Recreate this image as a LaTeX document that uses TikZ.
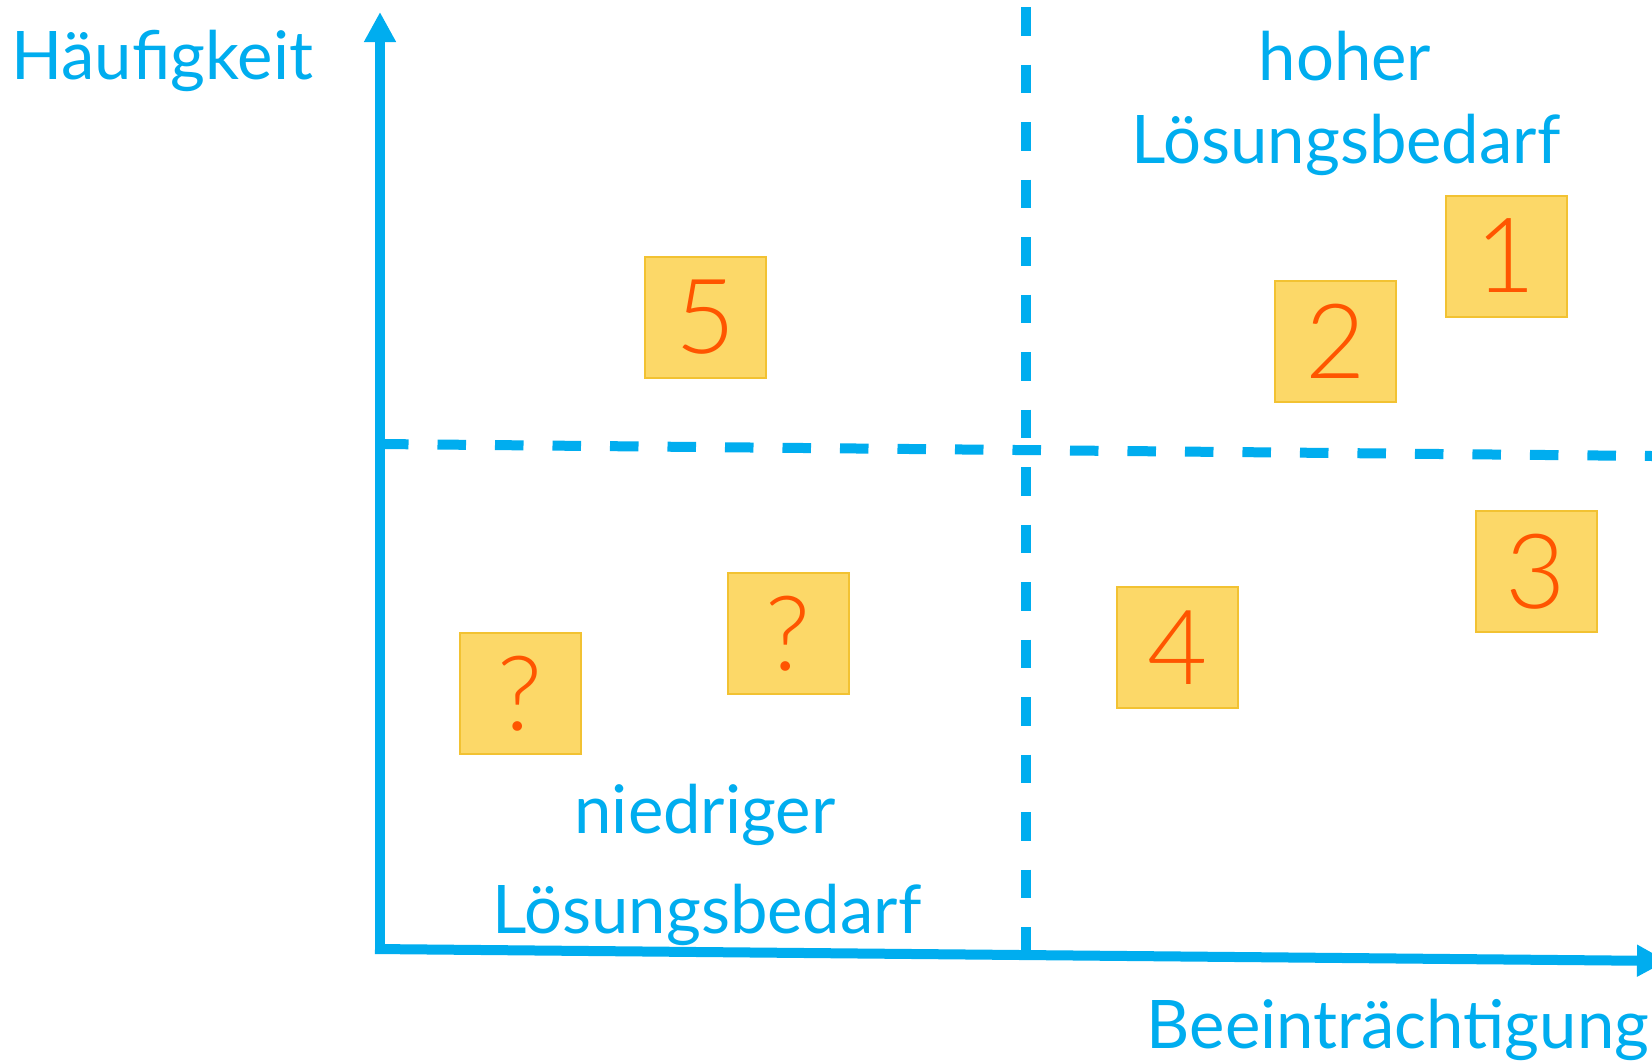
\documentclass[tikz,border=0pt]{standalone}
\usepackage{fontspec}
\setmainfont{Lato}
\IfFontExistsTF{Lato Light}{\newfontfamily\cardfont{Lato Light}}{\newfontfamily\cardfont{Lato}}
\usetikzlibrary{arrows.meta}
\definecolor{cy}{HTML}{00ADEF}
\definecolor{boxfill}{HTML}{FCD868}
\definecolor{boxline}{HTML}{F2C232}
\definecolor{digit}{HTML}{FF5500}
\begin{document}
\begin{tikzpicture}[x=0.5pt,y=-0.5pt,
  axis/.style={draw=cy, line width=5pt, -{Triangle[width=15pt,length=15pt]}},
  grid/.style={draw=cy, line width=5pt, dash pattern=on 14.25pt off 14.5pt},
  lbl/.style={text=cy, font=\fontsize{33.5pt}{40pt}\selectfont, inner sep=0pt, anchor=base},
  card/.style={draw=boxline, fill=boxfill, line width=1pt, minimum size=60.5pt, inner sep=0pt, text=digit, font=\cardfont\fontsize{52pt}{60pt}\selectfont},
]
\useasboundingbox[fill=white] (0,0) rectangle (1652,1060);

% grid lines
\coordinate (hl) at (380,444);
\coordinate (hr) at (1652,456);
\coordinate (vt) at (1026,7);
\coordinate (vb) at (1026,950);
\draw[grid] (hl) -- (hr);
\draw[grid] (vt) -- (vb);

% axes
\coordinate (O) at (380,951);
\coordinate (Ox) at (375,949);
\coordinate (ytip) at (380,12);
\coordinate (xtip) at (1667,961);
\draw[axis] (O) -- (ytip);
\draw[axis] (Ox) -- (xtip);

% labels
\node[lbl, anchor=base west] (hf) at (11,79) {Häufigkeit};
\node[lbl] (hoher) at (1345,80) {hoher};
\node[lbl] (lbh) at (1346,163) {Lösungsbedarf};
\node[lbl] (nied) at (705,833) {niedriger};
\node[lbl] (lbn) at (707,933) {Lösungsbedarf};
\node[lbl] (bee) at (1398,1048) {Beeinträchtigung};

% cards
\node[card] (c1) at (1506,256) {1};
\node[card] (c2) at (1335.5,341.5) {2};
\node[card] (c5) at (705.5,317.5) {5};
\node[card] (c3) at (1536,571.5) {3};
\node[card] (c4) at (1177.5,647.5) {4};
\node[card] (qa) at (520,693.5) {?};
\node[card] (qb) at (788,633.5) {?};
\end{tikzpicture}
\end{document}
